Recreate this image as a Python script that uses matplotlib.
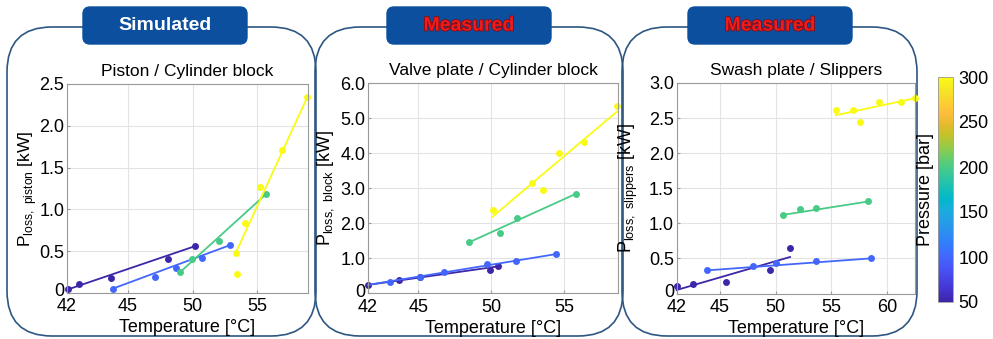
import matplotlib
matplotlib.use('Agg')
import matplotlib.pyplot as plt
from matplotlib.colors import LinearSegmentedColormap, Normalize
from matplotlib.patches import FancyBboxPatch
from matplotlib.ticker import FuncFormatter
from matplotlib.transforms import ScaledTranslation
import matplotlib.patheffects as pe

plt.rcParams['font.family'] = ['Liberation Sans', 'DejaVu Sans']

# ---------- data ----------
pressures = [50, 100, 200, 300]

# panel 1: piston / cylinder block (simulated)
piston_temp = [
    [40.36, 41.26, 43.72, 48.09, 50.21],
    [43.84, 47.06, 48.74, 50.72, 52.87],
    [49.05, 49.95, 52.04, 55.65],
    [53.33, 53.43, 54.05, 55.19, 56.86, 58.84],
]
piston_loss = [
    [0.04, 0.10, 0.18, 0.41, 0.56],
    [0.05, 0.19, 0.30, 0.42, 0.57],
    [0.25, 0.41, 0.62, 1.18],
    [0.48, 0.23, 0.83, 1.27, 1.71, 2.34],
]
piston_fit_temp = [[40.36, 50.21], [43.84, 52.87], [49.05, 55.65], [53.33, 58.84]]
piston_fit_loss = [[0.04, 0.56], [0.05, 0.57], [0.25, 1.18], [0.48, 2.34]]

# panel 2: valve plate / cylinder block (measured)
block_temp = [
    [41.55, 43.70, 45.12, 49.92, 50.49],
    [43.06, 45.12, 46.76, 49.72, 51.71, 54.45],
    [48.50, 50.63, 51.80, 55.80],
    [50.10, 52.82, 53.54, 54.66, 56.35, 58.62],
]
block_loss = [
    [0.24, 0.39, 0.47, 0.66, 0.79],
    [0.33, 0.48, 0.60, 0.83, 0.91, 1.12],
    [1.46, 1.71, 2.15, 2.84],
    [2.38, 3.15, 2.96, 4.01, 4.31, 5.35],
]
block_fit_temp = [[41.55, 50.49], [41.55, 54.45], [48.50, 55.80], [50.10, 58.62]]
block_fit_loss = [[0.24, 0.77], [0.24, 1.12], [1.46, 2.84], [2.19, 5.19]]

# panel 3: swash plate / slippers (measured)
slipper_temp = [
    [41.14, 42.62, 45.53, 49.49, 51.30],
    [43.90, 48.00, 50.05, 53.65, 58.52],
    [50.68, 52.22, 53.65, 58.28],
    [55.40, 56.94, 57.56, 59.29, 61.28, 62.47],
]
slipper_loss = [
    [0.11, 0.13, 0.16, 0.33, 0.65],
    [0.33, 0.39, 0.43, 0.47, 0.50],
    [1.12, 1.21, 1.22, 1.32],
    [2.61, 2.62, 2.44, 2.73, 2.73, 2.78],
]
slipper_fit_temp = [[41.14, 51.30], [43.90, 58.52], [50.68, 58.28], [55.40, 62.47]]
slipper_fit_loss = [[0.05, 0.52], [0.33, 0.50], [1.12, 1.31], [2.54, 2.78]]

headers = ['Simulated', 'Measured', 'Measured']
titles = ['Piston / Cylinder block', 'Valve plate / Cylinder block', 'Swash plate / Slippers']
ylabels = [r'P$_\mathregular{loss,\ piston}$ [kW]',
           r'P$_\mathregular{loss,\ block}$ [kW]',
           r'P$_\mathregular{loss,\ slippers}$ [kW]']
xtick_labels = [['42', '45', '50', '55'], ['42', '45', '50', '55'], ['42', '45', '50', '55', '60']]
yticks = [[0, 0.5, 1.0, 1.5, 2.0, 2.5], [0, 1, 2, 3, 4, 5, 6], [0, 0.5, 1.0, 1.5, 2.0, 2.5, 3.0]]
pressure_ticks = [50, 100, 150, 200, 250, 300]

# ---------- MATLAB parula-like colormap (anchors at their index in the 64-colour map) ----------
parula_idx = [1, 5, 10, 14, 17, 21, 24, 27, 30, 33, 36, 39, 42, 45, 48, 51, 54, 57, 60, 64]
parula_rgb = [
    (0.2422, 0.1504, 0.6603), (0.2706, 0.2147, 0.8364), (0.2810, 0.3228, 0.9579),
    (0.2602, 0.4123, 0.9952), (0.1963, 0.4847, 0.9892), (0.1687, 0.5703, 0.9359),
    (0.1380, 0.6276, 0.8973), (0.0952, 0.6798, 0.8598), (0.0036, 0.7203, 0.7917),
    (0.0964, 0.7500, 0.7120), (0.1938, 0.7758, 0.6251), (0.2906, 0.7973, 0.5188),
    (0.4456, 0.8024, 0.3909), (0.6174, 0.7876, 0.2612), (0.7738, 0.7598, 0.1646),
    (0.9035, 0.7330, 0.1774), (0.9956, 0.7434, 0.2371), (0.9892, 0.8136, 0.1885),
    (0.9610, 0.8890, 0.1537), (0.9769, 0.9839, 0.0805)]
parula = LinearSegmentedColormap.from_list(
    'parula', [((i - 1) / 63, c) for i, c in zip(parula_idx, parula_rgb)])
norm = Normalize(50, 300)

W, H = 993, 339
fig = plt.figure(figsize=(W / 100, H / 100), dpi=100)
fig.patch.set_facecolor('white')


def px_rect(x0, y0, x1, y1):
    return [x0 / W, 1 - y1 / H, (x1 - x0) / W, (y1 - y0) / H]


# background layer for the rounded frames
bg = fig.add_axes([0, 0, 1, 1])
bg.set_xlim(0, W)
bg.set_ylim(H, 0)
bg.axis('off')
bg.set_zorder(-1)

frames = [(7, 316), (315, 623), (622, 917)]
header_x = [(83, 247), (387, 551), (688, 852)]
navy = '#0b4f9e'
for (x0, x1), (hx0, hx1), txt in zip(frames, header_x, headers):
    bg.add_patch(FancyBboxPatch((x0, 27), x1 - x0, 309, boxstyle='round,pad=0,rounding_size=45',
                                fc='none', ec='#2d5682', lw=1.2))
    bg.add_patch(FancyBboxPatch((hx0, 7), hx1 - hx0, 37, boxstyle='round,pad=0,rounding_size=7',
                                fc=navy, ec=navy, lw=1, zorder=3))
    if txt == 'Simulated':
        bg.text((hx0 + hx1) / 2, 26, txt, color='white', fontsize=14, fontweight='bold',
                ha='center', va='center', zorder=4)
    else:
        bg.text((hx0 + hx1) / 2, 26, txt, color='#ee1c1c', fontsize=14, fontweight='bold',
                ha='center', va='center', zorder=4,
                path_effects=[pe.withStroke(linewidth=1.2, foreground='#8a0a10')])

axes_px = [(67, 84, 308, 292.8), (368, 83.3, 618, 293.3), (676.7, 82.9, 915, 293.5)]
xlims = [(40.3, 58.9), (41.55, 58.7), (41.14, 62.5)]
xtick_pos = [[40.3, 45, 50, 55], [41.55, 45, 50, 55], [41.14, 45, 50, 55, 60]]
ylims = [(0, 2.5), (0, 6), (0, 3)]
ylab_x = [-0.118, -0.128, -0.155]
ylab_size = [12.5, 13, 13]

panel_temp = [piston_temp, block_temp, slipper_temp]
panel_loss = [piston_loss, block_loss, slipper_loss]
panel_fit_t = [piston_fit_temp, block_fit_temp, slipper_fit_temp]
panel_fit_l = [piston_fit_loss, block_fit_loss, slipper_fit_loss]

for i in range(3):
    ax = fig.add_axes(px_rect(*axes_px[i]))
    for k, p in enumerate(pressures):
        c = parula(norm(p))
        ax.plot(panel_fit_t[i][k], panel_fit_l[i][k], '-', color=c, lw=1.3, clip_on=False)
        ax.plot(panel_temp[i][k], panel_loss[i][k], 'o', color=c, ms=5, mec='none', clip_on=False)
    ax.set_xlim(*xlims[i])
    ax.set_ylim(*ylims[i])
    ax.set_xticks(xtick_pos[i])
    ax.set_xticklabels(xtick_labels[i])
    ax.set_yticks(yticks[i])
    ax.yaxis.set_major_formatter(FuncFormatter(lambda v, _: '0' if v == 0 else '%.1f' % v))
    ax.grid(True, color='#e3e3e3', lw=0.8)
    ax.set_axisbelow(True)
    for s in ax.spines.values():
        s.set_color('#9a9a9a')
        s.set_linewidth(0.8)
    ax.tick_params(direction='in', length=2.5, color='#9a9a9a', labelsize=13, pad=2)
    ax.tick_params(axis='x', pad=4)
    # lift the "0" a touch so it clears the first x label, as in the original
    zero_lbl = ax.yaxis.get_major_ticks()[0].label1
    zero_lbl.set_transform(zero_lbl.get_transform() + ScaledTranslation(0, 3 / 100, fig.dpi_scale_trans))
    ax.set_title(titles[i], fontsize=12.5, pad=6)
    ax.set_xlabel('Temperature [°C]', fontsize=13)
    ax.xaxis.set_label_coords(0.5, -0.125)
    ax.set_ylabel(ylabels[i], fontsize=ylab_size[i])
    ax.yaxis.set_label_coords(ylab_x[i], 0.5)

# colour bar
cax = fig.add_axes(px_rect(938, 77, 953, 302))
sm = plt.cm.ScalarMappable(norm=norm, cmap=parula)
cb = fig.colorbar(sm, cax=cax, ticks=pressure_ticks)
cb.outline.set_edgecolor('#9a9a9a')
cb.outline.set_linewidth(0.6)
cax.tick_params(length=0, labelsize=13, pad=4)
cb.set_label('Pressure [bar]', fontsize=13, labelpad=3)
cax.yaxis.set_label_position('left')

fig.savefig('out.png', dpi=100, facecolor='white')
